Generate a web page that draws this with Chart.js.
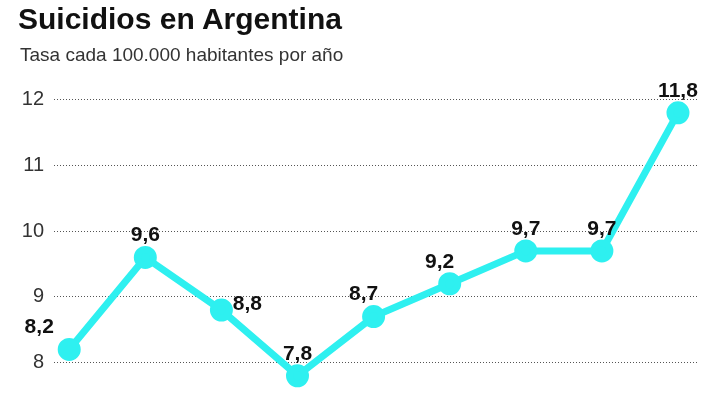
<!DOCTYPE html>
<html><head><meta charset="utf-8">
<script src="https://cdn.jsdelivr.net/npm/chart.js@4"></script>
<style>
body{margin:0;background:#fff;width:720px;height:405px;overflow:hidden;font-family:"Liberation Sans",sans-serif}
#t{position:absolute;left:18px;top:2px;font-family:"Liberation Sans Narrow","Liberation Sans";font-weight:bold;font-size:30px;color:#111}
#s{position:absolute;left:20px;top:44px;font-size:19px;color:#333}
#w{position:absolute;left:0;top:0;width:720px;height:405px}
</style></head><body>
<div id="w"><canvas id="c"></canvas></div>
<div id="t">Suicidios en Argentina</div>
<div id="s">Tasa cada 100.000 habitantes por año</div>
<script>
const values=[8.2,9.6,8.8,7.8,8.7,9.2,9.7,9.7,11.8];
const labels=["8,2","9,6","8,8","7,8","8,7","9,2","9,7","9,7","11,8"];
const yTicks=[8,9,10,11,12];
const labelOffsets=[[-30,-22],[0,-22],[26,-6],[0,-22],[-10,-22],[-10,-22],[0,-22],[0,-22],[0,-22]];
const lbl={id:'lbl',afterDatasetsDraw(ch){const ctx=ch.ctx,m=ch.getDatasetMeta(0);ctx.save();ctx.font='bold 21px "Liberation Sans"';ctx.fillStyle='#111';ctx.textAlign='center';ctx.textBaseline='middle';
m.data.forEach((p,i)=>{ctx.fillText(labels[i],p.x+labelOffsets[i][0],p.y+labelOffsets[i][1]);});ctx.restore();}};
new Chart(document.getElementById('c'),{type:'line',
data:{datasets:[{data:values.map((v,i)=>({x:i,y:v})),borderColor:'#2ef0f0',backgroundColor:'#2ef0f0',borderWidth:7,pointRadius:8,pointHoverRadius:8,tension:0,clip:false}]},
options:{responsive:true,maintainAspectRatio:false,animation:false,layout:{padding:{top:80,right:23,bottom:0}},
plugins:{legend:{display:false},tooltip:{enabled:false}},
scales:{x:{type:'linear',min:-0.2,max:8.25,display:false},
y:{min:7.69,max:12.3,afterFit(s){s.width=54;},afterBuildTicks(s){s.ticks=yTicks.map(v=>({value:v}));},
border:{display:false,dash:[1,2]},grid:{color:'#555',lineWidth:1,drawTicks:false},
ticks:{padding:10,color:'#333',font:{size:20,family:'"Liberation Sans"'}}}}},plugins:[lbl]});
</script></body></html>
